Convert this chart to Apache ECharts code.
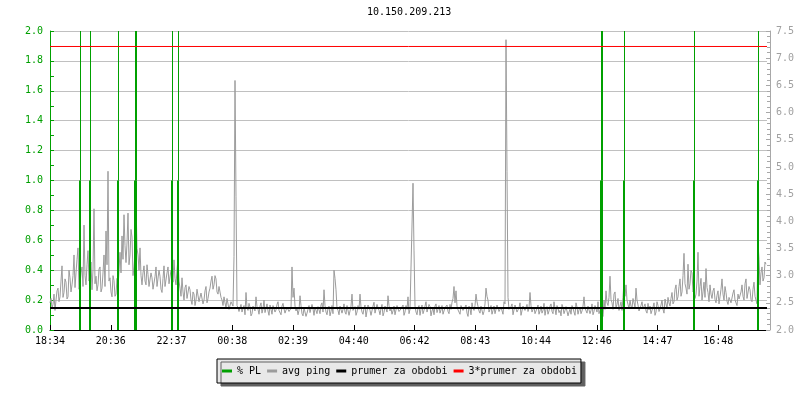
<!DOCTYPE html>
<html><head><meta charset="utf-8">
<script src="https://cdn.jsdelivr.net/npm/echarts@6/dist/echarts.min.js"></script>
<style>html,body{margin:0;padding:0;background:#fff}#c{width:800px;height:400px}</style>
</head><body><div id="c"></div>
<script>
const chartTitle = '10.150.209.213';
const seriesNames = ['% PL', 'avg ping', 'prumer za obdobi', '3*prumer za obdobi'];
const xTickLabels = ['18:34','20:36','22:37','00:38','02:39','04:40','06:42','08:43','10:44','12:46','14:47','16:48'];
const xMinMinutes = 0, xMaxMinutes = 1434, xTickStep = 121.5;
const pingStartMinute = 0, pingStepMinutes = 2;
const avgPing = [
 // 18:34 - busy evening
 2.50,2.58,2.41,2.47,2.66,2.36,2.55,2.72,2.77,2.52,2.61,2.90,3.18,2.60,2.69,2.94,2.88,2.57,2.61,3.10,2.96,2.70,2.83,3.00,3.38,2.78,3.05,3.30,3.51,2.75,2.83,
 3.05,3.16,2.80,3.93,3.00,2.83,3.20,3.46,2.90,3.05,3.25,2.74,3.10,4.23,2.85,2.99,2.72,2.83,3.12,3.16,2.70,2.77,3.05,3.38,2.80,3.82,
 3.20,4.92,2.90,2.96,2.70,2.61,3.00,2.91,2.62,2.66,2.95,2.77,
 3.10,3.43,3.05,3.73,3.30,4.12,3.55,3.24,3.60,4.15,3.20,3.38,3.85,3.71,3.00,3.16,
 3.40,4.37,3.50,3.38,3.10,3.51,3.00,2.83,3.05,3.18,2.90,2.83,3.20,3.02,2.80,2.77,3.05,2.96,2.75,2.72,2.98,3.16,2.80,2.83,3.10,2.99,2.75,2.69,2.95,3.18,2.80,2.77,3.05,3.16,2.85,2.88,
 3.10,3.05,2.88,3.29,2.95,2.83,3.10,3.32,2.90,2.77,2.62,2.96,2.70,2.55,2.78,2.83,2.58,2.61,2.80,2.74,
 2.55,2.47,2.70,2.66,2.45,2.55,2.75,2.74,2.52,2.50,2.68,2.69,2.48,2.55,2.72,2.80,2.50,2.58,
 2.70,2.77,2.90,2.99,2.75,2.83,3.00,2.94,2.70,2.66,2.80,2.83,2.60,2.55,
 2.45,2.61,2.50,2.41,2.58,2.55,2.38,2.36,2.52,2.50,2.44,3.35,6.59,4.45,2.45,2.41,2.34,2.41,
 // night - quiet
 2.47,2.33,2.40,2.45,2.28,2.69,2.41,2.36,2.49,2.42,2.26,2.30,2.44,2.47,2.35,2.61,2.43,2.38,2.29,2.44,2.50,2.31,2.39,2.55,2.32,
 2.40,2.48,2.35,2.27,2.46,2.38,2.29,2.45,2.42,2.33,2.37,2.47,2.52,2.36,2.33,2.28,2.44,2.49,2.39,2.31,2.30,2.42,2.45,2.34,2.36,
 2.40,3.16,2.60,2.77,2.44,2.35,2.40,2.28,2.36,2.63,2.45,2.30,2.26,2.41,2.44,2.25,2.31,2.38,2.45,2.32,
 2.29,2.47,2.39,2.27,2.42,2.36,2.30,2.43,2.37,2.30,2.46,2.50,2.33,2.74,2.45,2.33,2.28,2.40,2.44,2.26,
 2.34,2.45,2.30,3.10,2.95,2.74,2.40,2.36,2.28,2.44,2.47,2.31,2.38,2.48,2.33,2.29,2.45,2.42,2.27,2.35,
 2.44,2.66,2.36,2.38,2.43,2.27,2.33,2.45,2.38,2.66,2.42,2.33,2.29,2.40,2.46,2.24,2.35,2.46,2.42,2.36,
 2.27,2.30,2.44,2.51,2.31,2.34,2.47,2.41,2.36,2.28,2.40,2.47,2.26,2.32,2.44,2.39,2.33,2.63,2.45,2.35,
 2.40,2.29,2.35,2.44,2.28,2.37,2.45,2.48,2.34,2.31,2.39,2.42,2.46,2.27,2.33,2.45,2.38,2.61,2.30,2.38,
 2.36,2.40,4.70,3.47,2.44,2.33,2.28,2.41,2.45,2.27,2.38,2.46,2.30,2.36,2.44,2.52,2.33,2.30,2.47,2.43,
 2.26,2.35,2.40,2.28,2.44,2.48,2.32,2.38,2.45,2.31,2.37,2.45,2.29,2.26,2.41,2.40,2.46,2.34,2.30,2.47,
 2.38,2.51,2.58,2.80,2.50,2.72,2.44,2.37,2.33,2.29,2.45,2.43,2.36,2.33,2.42,2.46,2.31,2.25,2.44,2.39,
 2.28,2.50,2.40,2.36,2.45,2.66,2.52,2.55,2.35,2.31,2.44,2.42,2.28,2.34,2.48,2.77,2.62,2.55,2.33,2.38,
 2.45,2.29,2.36,2.44,2.30,2.32,2.46,2.47,2.34,2.36,2.42,2.41,2.29,2.52,2.48,7.34,4.92,2.60,2.38,2.35,
 2.43,2.48,2.28,2.30,2.46,2.44,2.33,2.37,2.41,2.50,2.27,2.28,2.44,2.45,2.36,2.39,2.47,2.34,2.40,2.69,
 2.45,2.33,2.38,2.42,2.30,2.27,2.40,2.46,2.29,2.35,2.44,2.31,2.36,2.49,2.27,2.38,2.43,2.29,2.35,2.44,
 2.48,2.34,2.30,2.52,2.39,2.28,2.45,2.40,2.32,2.36,2.26,2.47,2.41,2.30,2.36,2.43,2.46,2.26,2.33,2.38,
 2.29,2.45,2.40,2.33,2.27,2.50,2.42,2.29,2.37,2.41,2.30,2.35,2.44,2.61,2.40,2.37,2.31,2.44,2.46,2.30,
 2.36,2.48,2.28,2.34,2.45,2.42,2.33,2.52,2.30,2.36,
 // afternoon
 2.42,2.30,2.25,2.55,2.38,2.72,2.50,2.45,2.60,2.99,2.56,2.50,2.38,2.66,2.70,2.41,2.47,2.58,2.36,2.44,2.52,2.36,2.60,2.91,
 2.62,2.83,2.55,2.47,2.40,2.55,2.44,2.40,2.58,2.50,2.42,2.77,2.55,2.46,2.35,2.38,2.45,2.52,2.39,2.43,2.48,2.35,2.31,2.49,
 2.37,2.44,2.30,2.36,2.42,2.50,2.27,2.33,2.52,2.45,2.34,2.39,2.46,2.55,2.38,2.31,2.57,2.48,2.40,2.60,2.50,2.44,2.58,2.69,
 2.48,2.52,2.75,2.83,2.55,2.61,2.80,2.94,2.62,2.70,3.00,3.41,2.85,2.77,2.66,3.21,2.75,2.85,3.10,3.05,2.70,2.74,
 2.58,2.66,2.90,3.43,2.62,2.80,2.95,2.55,2.70,2.88,2.60,3.13,2.78,2.69,2.52,2.83,2.66,2.58,2.72,2.77,2.56,2.50,2.64,2.72,
 2.48,2.61,2.75,2.94,2.66,2.55,2.80,2.69,2.53,2.47,2.60,2.63,2.50,2.52,2.68,2.74,2.55,2.50,2.45,2.66,2.57,2.58,2.70,2.83,
 2.62,2.55,2.85,2.94,2.58,2.61,2.80,2.74,2.56,2.52,2.75,2.88,2.62,2.60,2.48,3.60,
 3.30,2.83,3.05,3.16,2.90,2.96,3.25,3.21
];
const plMinutes = [60, 80, 136, 170, 172, 244, 256, 1102, 1104, 1148, 1288, 1416];
const plValues  = [1, 1, 1, 1, 1, 1, 1, 1, 1, 1, 1, 1];
const meanPing = 2.405;
const tripleMeanPing = 7.215;
const leftTicks = { min: 0, max: 2, step: 0.2 };
const rightTicks = { min: 2, max: 7.5, step: 0.5 };

const GREEN = '#00a000', GRAY = '#9c9c9c', RED = '#ff0000', BLACK = '#000000';
const FONT = 'DejaVu Sans Mono';

const pingData = avgPing.map((v, i) => [pingStartMinute + i * pingStepMinutes, v]);
const plData = plMinutes.map((t, i) => [t, plValues[i]]);

const chart = echarts.init(document.getElementById('c'), null, { renderer: 'canvas' });
chart.setOption({
  animation: false,
  backgroundColor: '#ffffff',
  title: {
    text: chartTitle, left: 367, top: 7, padding: 0,
    textStyle: { fontFamily: FONT, fontSize: 10, fontWeight: 'normal', color: '#000' }
  },
  legend: {
    data: seriesNames,
    left: 217, top: 359,
    padding: [6, 4, 6, 5],
    itemGap: 6, itemWidth: 10, itemHeight: 3,
    icon: 'rect',
    backgroundColor: '#e8e8e8',
    borderColor: '#000', borderWidth: 1,
    shadowColor: '#606060', shadowBlur: 0, shadowOffsetX: 4, shadowOffsetY: 3,
    textStyle: { fontFamily: FONT, fontSize: 10, color: '#000', lineHeight: 12 },
    selectedMode: false
  },
  grid: { left: 50, right: 33, top: 31, bottom: 70, containLabel: false },
  xAxis: {
    type: 'value', min: xMinMinutes, max: xMaxMinutes, interval: xTickStep,
    axisLine: { show: true, lineStyle: { color: BLACK, width: 1 } },
    axisTick: { show: true, inside: true, length: 5, lineStyle: { color: BLACK } },
    axisLabel: {
      margin: 6, fontFamily: FONT, fontSize: 10, color: '#000',
      showMaxLabel: false,
      formatter: v => { const k = Math.round(v / xTickStep); return xTickLabels[k] || ''; }
    },
    splitLine: { show: false }
  },
  yAxis: [{
    type: 'value', position: 'left', min: leftTicks.min, max: leftTicks.max, interval: leftTicks.step,
    axisLine: { show: true, lineStyle: { color: GREEN } },
    axisTick: { show: true, inside: true, length: 4, lineStyle: { color: GREEN } },
    minorTick: { show: true, splitNumber: 2, length: 4, lineStyle: { color: GREEN } },
    axisLabel: { margin: 7, fontFamily: FONT, fontSize: 10, color: GREEN, formatter: v => v.toFixed(1) },
    splitLine: { show: true, lineStyle: { color: '#c0c0c0', width: 1 } }
  }, {
    type: 'value', position: 'right', offset: 3, min: rightTicks.min, max: rightTicks.max, interval: rightTicks.step,
    axisLine: { show: true, lineStyle: { color: '#a8a8a8' } },
    axisTick: { show: true, inside: true, length: 4, lineStyle: { color: '#a8a8a8' } },
    minorTick: { show: true, splitNumber: 5, length: 3, lineStyle: { color: '#a8a8a8' } },
    axisLabel: { margin: 6, fontFamily: FONT, fontSize: 10, color: '#a0a0a0', formatter: v => v.toFixed(1) },
    splitLine: { show: false }
  }],
  series: [{
    name: seriesNames[1], type: 'line', yAxisIndex: 1, data: pingData,
    showSymbol: false, symbol: 'none', color: GRAY,
    itemStyle: { color: GRAY }, lineStyle: { color: GRAY, width: 1 }, z: 2
  }, {
    name: seriesNames[0], type: 'custom', yAxisIndex: 0, data: plData, color: GREEN,
    itemStyle: { color: GREEN }, z: 3,
    renderItem: function (params, api) {
      const t = api.value(0), v = api.value(1);
      const p0 = api.coord([t, leftTicks.min]);
      const p1 = api.coord([t, v]);
      const pTop = api.coord([t, leftTicks.max]);
      const xr = Math.round(p0[0]);
      return { type: 'group', children: [
        { type: 'rect', shape: { x: xr - 1, y: p1[1], width: 2, height: p0[1] - p1[1] }, style: { fill: GREEN } },
        { type: 'rect', shape: { x: xr, y: pTop[1], width: 1, height: p1[1] - pTop[1] }, style: { fill: GREEN } }
      ] };
    }
  }, {
    name: seriesNames[2], type: 'line', yAxisIndex: 1,
    data: [[xMinMinutes, meanPing], [xMaxMinutes, meanPing]],
    showSymbol: false, symbol: 'none', color: BLACK,
    itemStyle: { color: BLACK }, lineStyle: { color: BLACK, width: 2 }, z: 4
  }, {
    name: seriesNames[3], type: 'line', yAxisIndex: 1,
    data: [[xMinMinutes, tripleMeanPing], [xMaxMinutes, tripleMeanPing]],
    showSymbol: false, symbol: 'none', color: RED,
    itemStyle: { color: RED }, lineStyle: { color: RED, width: 1 }, z: 5
  }]
});
</script>
</body></html>
